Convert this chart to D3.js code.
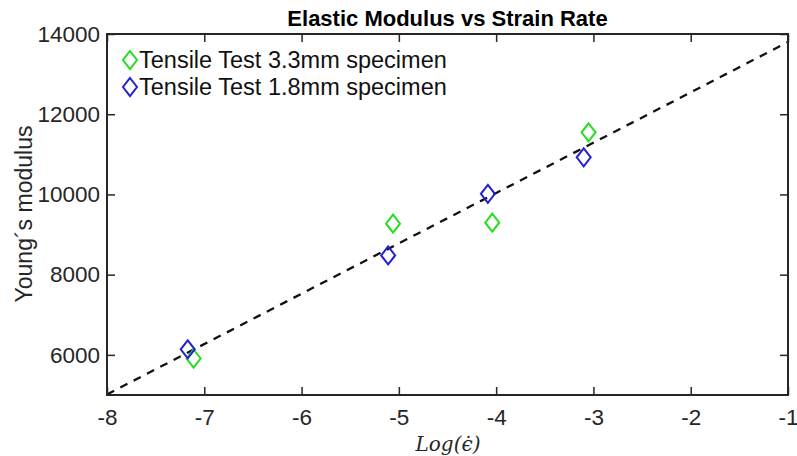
<!DOCTYPE html>
<html><head><meta charset="utf-8">
<script src="https://cdn.jsdelivr.net/npm/d3@7"></script>
<style>body{margin:0;background:#fff}svg{display:block}</style>
</head><body>
<svg id="c" width="797" height="456"></svg>
<script>
const xTicks = [-8,-7,-6,-5,-4,-3,-2,-1];
const yTicks = [6000,8000,10000,12000,14000];
const seriesNames = ["Tensile Test 3.3mm specimen","Tensile Test 1.8mm specimen"];
const greenX = [-7.11,-5.06,-4.04,-3.05];
const greenY = [5910,9270,9295,11550];
const blueX = [-7.17,-5.11,-4.085,-3.10];
const blueY = [6140,8480,10015,10925];
const fitX = [-8,-1];
const fitY = [5015,13800];

const svg = d3.select("#c");
const L=107,R=788,T=34,B=395;
const x = d3.scaleLinear().domain([-8,-1]).range([L,R]);
const y = d3.scaleLinear().domain([5000,14000]).range([B,T]);
const axc="#262626";
const font="Liberation Sans, Arial, sans-serif";
const fmt = d => String(d);

// fit line
svg.append("path").datum(fitX.map((v,i)=>[v,fitY[i]]))
 .attr("d",d3.line().x(d=>x(d[0])).y(d=>y(d[1])))
 .attr("fill","none").attr("stroke","#111").attr("stroke-width",2.3).attr("stroke-dasharray","8,7");

const diamond = (cx,cy)=>`M${cx},${cy-9}L${cx+7},${cy}L${cx},${cy+9}L${cx-7},${cy}Z`;
function pts(xs,ys,col){
  svg.append("g").selectAll("path").data(xs.map((v,i)=>[v,ys[i]])).join("path")
   .attr("d",d=>diamond(x(d[0]),y(d[1]))).attr("fill","none").attr("stroke",col).attr("stroke-width",2);
}
pts(greenX,greenY,"#22dd22");
pts(blueX,blueY,"#2222cc");

// axes
const tl=8;
svg.append("g").attr("transform",`translate(0,${B})`).call(d3.axisBottom(x).tickValues(xTicks).tickSizeInner(-tl).tickSizeOuter(0).tickPadding(14).tickFormat(fmt))
 .call(g=>{g.select(".domain").remove();g.selectAll("text").attr("font-size",22.5).attr("font-family",font).attr("fill",axc);g.selectAll("line").attr("stroke",axc).attr("stroke-width",1.5);});
svg.append("g").attr("transform",`translate(0,${T})`).call(d3.axisTop(x).tickValues(xTicks).tickSizeInner(-tl).tickSizeOuter(0).tickFormat(""))
 .call(g=>{g.select(".domain").remove();g.selectAll("line").attr("stroke",axc).attr("stroke-width",1.5);});
svg.append("g").attr("transform",`translate(${L},0)`).call(d3.axisLeft(y).tickValues(yTicks).tickSizeInner(-tl).tickSizeOuter(0).tickPadding(7).tickFormat(fmt))
 .call(g=>{g.select(".domain").remove();g.selectAll("text").attr("font-size",22.5).attr("font-family",font).attr("fill",axc);g.selectAll("line").attr("stroke",axc).attr("stroke-width",1.5);});
svg.append("g").attr("transform",`translate(${R},0)`).call(d3.axisRight(y).tickValues(yTicks).tickSizeInner(-tl).tickSizeOuter(0).tickFormat(""))
 .call(g=>{g.select(".domain").remove();g.selectAll("line").attr("stroke",axc).attr("stroke-width",1.5);});
svg.append("rect").attr("x",L).attr("y",T).attr("width",R-L).attr("height",B-T).attr("fill","none").attr("stroke",axc).attr("stroke-width",2);

// title
svg.append("text").attr("x",(L+R)/2).attr("y",26).attr("text-anchor","middle").attr("font-family",font).attr("font-weight","bold").attr("font-size",22).attr("fill","#000").text("Elastic Modulus vs Strain Rate");
// y label
svg.append("text").attr("transform",`translate(32,214) rotate(-90)`).attr("text-anchor","middle").attr("font-family",font).attr("font-size",23).attr("fill",axc).text("Young´s modulus");
// x label
svg.append("text").attr("x",448).attr("y",451).attr("text-anchor","middle").attr("font-family","DejaVu Serif, Liberation Serif, serif").attr("font-style","italic").attr("font-size",20).attr("fill",axc).text("Log(ϵ̇)");

// legend
const legCols=["#22dd22","#2222cc"];
seriesNames.forEach((n,i)=>{
  const cy=60+i*27;
  svg.append("path").attr("d",diamond(130,cy)).attr("fill","none").attr("stroke",legCols[i]).attr("stroke-width",2);
  svg.append("text").attr("x",139).attr("y",cy+8).attr("font-family",font).attr("font-size",23.5).attr("fill","#111").text(n);
});
</script>
</body></html>
